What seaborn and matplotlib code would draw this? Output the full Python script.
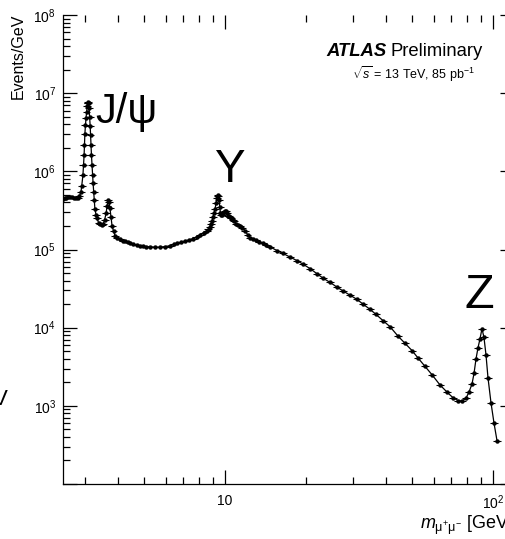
import numpy as np
import pandas as pd
import matplotlib
matplotlib.use("Agg")
import matplotlib.pyplot as plt
from matplotlib.ticker import LogLocator, NullFormatter
import seaborn as sns

# Dimuon invariant mass spectrum: bin centres [GeV] and events per GeV
mass = [2.49, 2.52, 2.55, 2.59, 2.64, 2.68, 2.73, 2.78, 2.83, 2.86,
        2.90, 2.92, 2.95, 2.965, 2.98, 2.99, 3.00, 3.015, 3.03, 3.045,
        3.06, 3.07, 3.08, 3.095, 3.11, 3.125, 3.14, 3.15, 3.16, 3.175,
        3.19, 3.205, 3.22, 3.235, 3.25, 3.27, 3.30, 3.33, 3.375, 3.42,
        3.465, 3.51, 3.555, 3.60, 3.63, 3.66, 3.69, 3.72, 3.755, 3.79,
        3.84, 3.89, 3.97, 4.06, 4.15, 4.24, 4.33, 4.42, 4.55, 4.70,
        4.82, 4.94, 5.09, 5.25, 5.48, 5.72, 5.98, 6.24, 6.43, 6.62,
        6.85, 7.09, 7.35, 7.60, 7.83, 8.07, 8.32, 8.57, 8.68, 8.79,
        8.87, 8.94, 9.02, 9.10, 9.18, 9.26, 9.32, 9.38, 9.44, 9.50,
        9.56, 9.62, 9.68, 9.75, 9.83, 9.91, 10.0, 10.09, 10.17, 10.26,
        10.35, 10.44, 10.57, 10.71, 10.85, 10.99, 11.18, 11.37, 11.62, 11.88,
        12.14, 12.40, 12.72, 13.05, 13.45, 13.86, 14.28, 14.72,
        15.63, 16.46, 17.48, 18.57, 19.54, 20.76, 22.04, 23.21, 24.65, 26.18,
        27.57, 29.28, 31.09, 32.74, 34.75, 36.59, 38.88, 41.28, 44.22, 46.95,
        49.87, 52.50, 55.76, 59.22, 63.43, 67.36, 70.91, 74.04, 76.62, 79.30,
        81.36, 83.51, 84.97, 86.45, 87.90, 89.44, 90.99, 92.56, 94.17, 95.79,
        98.29, 100.9, 103.5]
events = [4.4e5, 4.5e5, 4.6e5, 4.7e5, 4.7e5, 4.7e5, 4.6e5, 4.6e5, 4.6e5, 4.8e5,
          5.4e5, 6.5e5, 8.9e5, 1.2e6, 1.6e6, 2.2e6, 3.0e6, 3.9e6, 4.8e6, 5.8e6,
          6.8e6, 7.5e6, 7.8e6, 7.4e6, 6.5e6, 5.0e6, 3.8e6, 2.9e6, 2.2e6, 1.6e6,
          1.2e6, 9.0e5, 7.0e5, 5.5e5, 4.3e5, 3.3e5, 2.8e5, 2.5e5, 2.2e5, 2.1e5,
          2.05e5, 2.1e5, 2.4e5, 2.9e5, 3.6e5, 4.3e5, 4.1e5, 3.4e5, 2.6e5, 2.0e5,
          1.7e5, 1.5e5, 1.42e5, 1.35e5, 1.3e5, 1.27e5, 1.23e5, 1.2e5, 1.17e5, 1.14e5,
          1.12e5, 1.1e5, 1.09e5, 1.08e5, 1.07e5, 1.07e5, 1.09e5, 1.12e5, 1.16e5, 1.2e5,
          1.24e5, 1.28e5, 1.33e5, 1.38e5, 1.45e5, 1.55e5, 1.64e5, 1.75e5, 1.85e5, 1.95e5,
          2.1e5, 2.3e5, 2.6e5, 2.9e5, 3.3e5, 3.9e5, 4.5e5, 5.0e5, 4.8e5, 4.3e5,
          3.5e5, 2.9e5, 2.8e5, 2.8e5, 2.9e5, 3.0e5, 3.1e5, 3.1e5, 2.9e5, 2.7e5,
          2.65e5, 2.6e5, 2.5e5, 2.4e5, 2.3e5, 2.15e5, 2.05e5, 2.0e5, 1.9e5, 1.75e5,
          1.55e5, 1.42e5, 1.37e5, 1.32e5, 1.26e5, 1.2e5, 1.14e5, 1.08e5,
          9.7e4, 8.9e4, 8.0e4, 7.2e4, 6.5e4, 5.7e4, 4.9e4, 4.3e4, 3.8e4, 3.3e4,
          2.95e4, 2.6e4, 2.3e4, 2.0e4, 1.72e4, 1.48e4, 1.23e4, 1.03e4, 7.8e3, 6.3e3,
          5.1e3, 4.1e3, 3.2e3, 2.5e3, 1.85e3, 1.5e3, 1.27e3, 1.17e3, 1.15e3, 1.25e3,
          1.5e3, 1.9e3, 2.6e3, 4.0e3, 5.5e3, 7.2e3, 9.7e3, 7.5e3, 4.5e3, 2.3e3,
          1.1e3, 6.0e2, 3.6e2]
bin_half_frac = 0.034  # relative half-width of a mass bin

y_ticks = [1e2, 1e3, 1e4, 1e5, 1e6, 1e7, 1e8]
y_tick_labels = ["", r"$10^{3}$", r"$10^{4}$", r"$10^{5}$", r"$10^{6}$",
                 r"$10^{7}$", r"$10^{8}$"]
x_ticks = [10, 100]
x_tick_labels = ["10", r"$10^{2}$"]

resonances = ["J/\u03c8", "\u03a5", "Z"]

df = pd.DataFrame({"mass": mass, "events": events})

sns.set_style("ticks")
plt.rcParams["font.family"] = ["Liberation Sans", "DejaVu Sans"]
plt.rcParams["text.color"] = "black"
plt.rcParams["mathtext.fontset"] = "custom"
plt.rcParams["mathtext.rm"] = "Liberation Sans"
plt.rcParams["mathtext.it"] = "Liberation Sans:italic"
plt.rcParams["mathtext.bf"] = "Liberation Sans:bold"
plt.rcParams["mathtext.default"] = "regular"

W, H = 506, 539
fig = plt.figure(figsize=(W / 100, H / 100), dpi=100)
ax = fig.add_axes([63 / W, 55 / H, 451 / W, 469 / H])

ax.set_xscale("log")
ax.set_yscale("log")

ax.errorbar(df["mass"], df["events"], xerr=df["mass"] * bin_half_frac,
            fmt="none", ecolor="black", elinewidth=0.8, capsize=0)
sns.lineplot(data=df, x="mass", y="events", ax=ax, color="black",
             linewidth=0.9, marker="o", markersize=3.2, markeredgewidth=0,
             estimator=None, sort=False)

ax.set_xlim(2.486, 119.8)
ax.set_ylim(1e2, 1e8)

ax.set_xticks(x_ticks, labels=x_tick_labels)
ax.set_yticks(y_ticks, labels=y_tick_labels)
ax.xaxis.set_minor_locator(LogLocator(base=10, subs=np.arange(2, 10), numticks=20))
ax.yaxis.set_minor_locator(LogLocator(base=10, subs=np.arange(2, 10), numticks=20))
ax.xaxis.set_minor_formatter(NullFormatter())
ax.yaxis.set_minor_formatter(NullFormatter())
ax.tick_params(which="both", direction="in", top=True, right=True,
               width=0.9, colors="black", labelsize=10)
ax.tick_params(which="major", length=10)
ax.tick_params(which="minor", length=5)
ax.tick_params(axis="x", which="major", pad=7)
ax.tick_params(axis="y", which="major", pad=5)
ax.spines["top"].set_visible(False)
for s in ["left", "bottom", "right"]:
    ax.spines[s].set_linewidth(0.9)
    ax.spines[s].set_color("black")
ax.set_xlabel("")
ax.set_ylabel("")

fig.text(18 / W, 1 - 14 / H, "Events/GeV", rotation=90, ha="center", va="top",
         fontsize=11.5)
fig.text(513 / W, 1 - 525 / H, r"$\mathit{m}_{\mu^{+}\mu^{-}}$ [GeV]", ha="right",
         va="center", fontsize=13)

fig.text(326 / W, 1 - 52 / H, "ATLAS", fontweight="bold", fontstyle="italic",
         ha="left", va="center", fontsize=13.3)
fig.text(391 / W, 1 - 52 / H, "Preliminary", ha="left", va="center", fontsize=13.3)
fig.text(352 / W, 1 - 74 / H, r"$\sqrt{\mathit{s}}$ = 13 TeV, 85 pb$^{-1}$",
         ha="left", va="center", fontsize=9)

fig.text(95 / W, 1 - 112 / H, resonances[0], ha="left", va="center", fontsize=30)
fig.text(229 / W, 1 - 170 / H, resonances[1], ha="center", va="center", fontsize=33)
fig.text(479 / W, 1 - 295 / H, resonances[2], ha="center", va="center", fontsize=35)

# edge of a neighbouring label at the far left
fig.text(8 / W, 1 - 389 / H, "V", ha="right", va="top", fontsize=16)

fig.savefig("out.png", dpi=100)
